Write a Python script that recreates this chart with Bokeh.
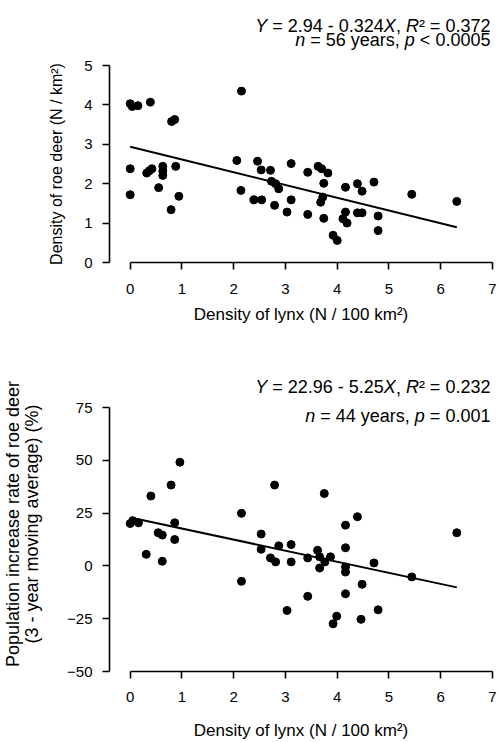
from bokeh.plotting import figure
from bokeh.layouts import column
from bokeh.models import Label, FixedTicker, Range1d
from bokeh.embed import file_html
from bokeh.resources import INLINE

# --- top panel: lynx density vs roe deer density ---
lynx_top = [0.00, 0.04, 0.15, 0.39, 0.80, 0.86, 0.00, 0.00, 0.32, 0.37, 0.42, 0.63, 0.63, 0.63,
            0.55, 0.88, 0.94, 0.79, 2.15, 2.06, 2.14, 2.46, 2.53, 2.71, 2.39, 2.54, 2.73, 2.81,
            2.87, 2.79, 3.03, 3.11, 3.11, 3.43, 3.43, 3.63, 3.70, 3.82, 3.74, 3.72, 3.68, 3.74,
            3.92, 4.00, 4.16, 4.16, 4.11, 4.19, 4.39, 4.48, 4.39, 4.48, 4.71, 4.79, 4.79, 5.44, 6.31]
deer_top = [4.03, 3.96, 3.98, 4.07, 3.58, 3.63, 2.38, 1.72, 2.27, 2.33, 2.38, 2.44, 2.32, 2.21,
            1.90, 2.44, 1.68, 1.34, 4.35, 2.59, 1.83, 2.57, 2.35, 2.34, 1.59, 1.59, 2.06, 2.00,
            1.87, 1.45, 1.28, 2.51, 1.59, 2.29, 1.22, 2.44, 2.38, 2.27, 2.01, 1.66, 1.53, 1.12,
            0.69, 0.56, 1.91, 1.28, 1.11, 1.00, 2.00, 1.81, 1.26, 1.26, 2.04, 1.18, 0.81, 1.73, 1.55]
fit_top = (2.94, -0.324)
# annotation segments: (text, italic?)
text_top_1 = [("Y", True), (" = 2.94 - 0.324", False), ("X", True), (", ", False),
              ("R", True), ("\u00b2 = 0.372", False)]
text_top_2 = [("n", True), (" = 56 years, ", False), ("p", True), (" < 0.0005", False)]

# --- bottom panel: lynx density vs roe deer increase rate ---
lynx_bot = [0.00, 0.05, 0.16, 0.40, 0.31, 0.54, 0.62, 0.62, 0.79, 0.96, 0.86, 0.86, 2.15, 2.15,
            2.53, 2.53, 2.79, 2.71, 2.81, 2.87, 3.11, 3.11, 3.03, 3.43, 3.43, 3.62, 3.66, 3.66,
            3.76, 3.87, 3.75, 4.16, 4.16, 4.16, 4.16, 4.16, 4.39, 4.48, 4.71, 4.79, 5.44, 6.31,
            3.99, 3.92, 4.46]
rate_bot = [20.1, 21.4, 20.4, 33.1, 5.5, 15.7, 14.6, 2.2, 38.3, 49.1, 20.4, 12.5, 24.9, -7.3,
            15.1, 7.9, 38.3, 3.8, 1.9, 9.5, 10.1, 1.9, -21.1, 3.8, -14.4, 7.4, 4.3, -1.0,
            1.9, 4.3, 34.3, 19.3, 8.6, -0.5, -2.9, -13.2, 23.3, -8.7, 1.4, -20.8, -5.2, 15.7,
            -23.8, -27.4, -25.3]
fit_bot = (22.96, -5.25)
text_bot_1 = [("Y", True), (" = 22.96 - 5.25", False), ("X", True), (", ", False),
              ("R", True), ("\u00b2 = 0.232", False)]
text_bot_2 = [("n", True), (" = 44 years, ", False), ("p", True), (" = 0.001", False)]

x_ticks = [0, 1, 2, 3, 4, 5, 6, 7]
y_ticks_top = [0, 1, 2, 3, 4, 5]
y_ticks_bot = [-50, -25, 0, 25, 50, 75]

FONT = "Liberation Sans"
ANN_PX = 18
W_FIG = 497
MB_LEFT, MB_RIGHT = 104, 5
X_END = 7.0
TEXT_X = 6.96

# Arial / Liberation Sans advance widths (per 1000 em)
W = {" ": 278, "=": 584, "-": 333, ".": 278, ",": 278, "<": 584, "Y": 667, "X": 667,
     "R": 722, "n": 556, "p": 556, "y": 500, "e": 556, "a": 556, "r": 333, "s": 500,
     "\u00b2": 333}


def text_width(s, px):
    return sum(W.get(c, 556) for c in s) * px / 1000.0


def add_segments(p, segs, x, y):
    offset = 0.0
    for txt, ital in reversed(segs):
        body = txt.rstrip(" ")
        trail = len(txt) - len(body)
        p.add_layout(Label(x=x, y=y, x_offset=-(offset + text_width(" " * trail, ANN_PX)),
                           text=body.strip(" "), text_align="right",
                           text_baseline="middle", text_font=FONT,
                           text_font_size=f"{ANN_PX}px",
                           text_font_style="italic" if ital else "normal",
                           text_color="black"))
        offset += text_width(txt, ANN_PX)


def blank(height, x_range):
    a = figure(width=W_FIG, height=height, output_backend="svg", toolbar_location=None,
               x_range=x_range, y_range=(0, height),
               x_axis_type=None, y_axis_type=None,
               min_border_left=MB_LEFT, min_border_right=MB_RIGHT,
               min_border_top=0, min_border_bottom=0)
    a.outline_line_color = None
    a.xgrid.visible = False
    a.ygrid.visible = False
    return a


def make_panel(xs, ys, fit, x_range, yticks, y_end, ylabel, ylabel_px, height,
               mb_top, mb_bottom, ystd, xlab_std, tick_std):
    p = figure(width=W_FIG, height=height, output_backend="svg", toolbar_location=None,
               x_range=x_range, y_range=(yticks[0], y_end),
               min_border_left=MB_LEFT, min_border_right=MB_RIGHT,
               min_border_top=mb_top, min_border_bottom=mb_bottom)
    p.outline_line_color = None
    p.xgrid.visible = False
    p.ygrid.visible = False
    p.background_fill_color = "white"

    x0, x1 = min(xs), max(xs)
    p.line([x0, x1], [fit[0] + fit[1] * x0, fit[0] + fit[1] * x1],
           line_color="black", line_width=2)
    p.scatter(xs, ys, size=8, fill_color="black", line_color="black")

    for ax in (p.xaxis[0], p.yaxis[0]):
        ax.axis_line_width = 1.6
        ax.axis_line_color = "black"
        ax.major_tick_line_color = "black"
        ax.major_tick_line_width = 1.6
        ax.major_tick_in = 0
        ax.major_tick_out = 7
        ax.minor_tick_line_color = None
        ax.major_label_text_font = FONT
        ax.major_label_text_font_size = "15px"
        ax.major_label_text_color = "black"
        ax.axis_label_text_font = FONT
        ax.axis_label_text_font_style = "normal"
        ax.axis_label_text_color = "black"

    p.xaxis.ticker = FixedTicker(ticks=x_ticks)
    p.xaxis.bounds = (x_ticks[0], x_ticks[-1])
    p.xaxis.major_label_standoff = tick_std
    p.xaxis.axis_label = "Density of lynx (N / 100 km\u00b2)"
    p.xaxis.axis_label_text_font_size = "17px"
    p.xaxis.axis_label_standoff = xlab_std

    p.yaxis.ticker = FixedTicker(ticks=yticks)
    p.yaxis.bounds = (yticks[0], yticks[-1])
    p.yaxis.major_label_standoff = 10
    p.yaxis.axis_label = ylabel
    p.yaxis.axis_label_text_font_size = ylabel_px
    p.yaxis.axis_label_text_line_height = 0.95
    p.yaxis.axis_label_standoff = ystd
    return p


xr1 = Range1d(-0.4, X_END)
xr2 = Range1d(-0.4, X_END)

a1 = blank(50, xr1)
add_segments(a1, text_top_1, TEXT_X, 25)
add_segments(a1, text_top_2, TEXT_X, 11)
p1 = make_panel(lynx_top, deer_top, fit_top, xr1, y_ticks_top, 5.0,
                "Density of roe deer (N / km\u00b2)", "16px", 276, 15, 64, 16, 8, 14)

p2 = make_panel(lynx_bot, rate_bot, fit_bot, xr2, y_ticks_bot, 89.7,
                "Population increase rate of roe deer\n(3 - year moving average) (%)", "18px",
                416, 50, 71, 22, 16, 13)
add_segments(p2, text_bot_1, TEXT_X, 84.5)
add_segments(p2, text_bot_2, TEXT_X, 71.2)

layout = column(a1, p1, p2, spacing=0)
open("out.html", "w").write(file_html(layout, INLINE))
